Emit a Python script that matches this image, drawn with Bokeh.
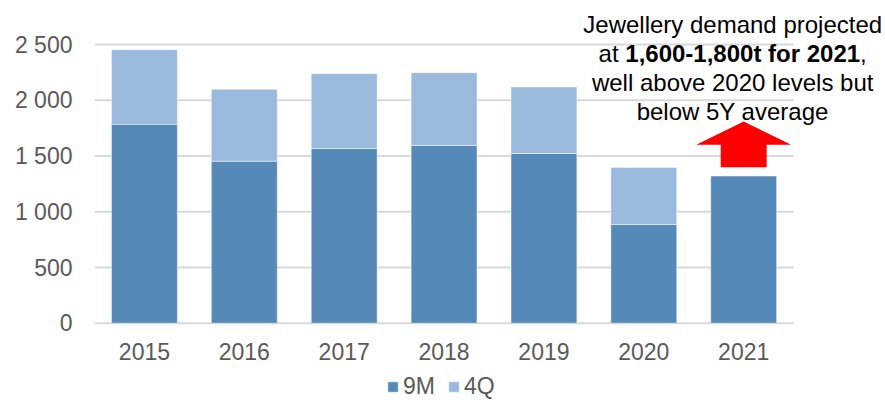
from bokeh.plotting import figure
from bokeh.models import (FixedTicker, Legend, LegendItem, Label, Range1d,
                          ColumnDataSource)
from bokeh.embed import file_html
from bokeh.resources import INLINE

# ---- data ----
years = ["2015", "2016", "2017", "2018", "2019", "2020", "2021"]
m9 = [1784, 1454, 1568, 1595, 1523, 886, 1320]
q4 = [670, 644, 671, 653, 595, 512, float("nan")]
series = ["9M", "4Q"]
y_ticks = [0, 500, 1000, 1500, 2000, 2500]
y_tick_labels = ["0", "500", "1 000", "1 500", "2 000", "2 500"]
proj_low, proj_high = 1600, 1800   # projected 2021 range (t)

C9M = "#5589B8"
C4Q = "#99B9DD"
TXT = "#595959"
FONT = "Liberation Sans"

n = len(years)
xs = list(range(n))
src = ColumnDataSource(dict(x=xs, m9=m9, q4=q4))

p = figure(width=885, height=400, output_backend="svg", toolbar_location=None,
           x_range=Range1d(-0.5, 7.42), y_range=Range1d(-693, 2895),
           min_border_left=94, min_border_right=0, min_border_top=0,
           min_border_bottom=0)
p.outline_line_color = None
p.background_fill_color = "white"
p.border_fill_color = "white"

# horizontal gridlines spanning the category area only
p.segment(x0=[-0.5] * len(y_ticks), x1=[n - 0.5] * len(y_ticks),
          y0=y_ticks, y1=y_ticks, line_color="#D9D9D9", line_width=2)

rs = p.vbar_stack(["m9", "q4"], x="x", width=0.66, source=src,
                  color=[C9M, C4Q], line_color="white", line_alpha=0.6,
                  line_width=0.8)

# axes
p.xaxis.ticker = FixedTicker(ticks=xs)
p.xaxis.major_label_overrides = {i: y for i, y in enumerate(years)}
p.xaxis.fixed_location = 0
p.yaxis.ticker = FixedTicker(ticks=y_ticks)
p.yaxis.major_label_overrides = {t: l for t, l in zip(y_ticks, y_tick_labels)}
for ax in (p.xaxis, p.yaxis):
    ax.axis_line_color = None
    ax.major_tick_line_color = None
    ax.minor_tick_line_color = None
    ax.major_tick_out = 0
    ax.major_tick_in = 0
    ax.major_label_text_font = FONT
    ax.major_label_text_font_size = "23px"
    ax.major_label_text_color = TXT
p.xaxis.major_label_standoff = 20
p.yaxis.major_label_standoff = 22
p.xgrid.grid_line_color = None
p.ygrid.grid_line_color = None

# arrow for 2021 projection
i21 = n - 1
shaft_hw, head_hw = 0.23, 0.475
shaft_bottom = m9[i21] + 80
ax_ = [i21 - shaft_hw, i21 + shaft_hw, i21 + shaft_hw, i21 + head_hw, i21,
       i21 - head_hw, i21 - shaft_hw]
ay_ = [shaft_bottom, shaft_bottom, proj_low, proj_low, proj_high + 10,
       proj_low, proj_low]
p.patch(ax_, ay_, fill_color="#FF0000", line_color=None)

# annotation text
cx = i21 - 0.11
fs = 24
common = dict(text_font=FONT, text_font_size=f"{fs}px", text_color="black",
              text_baseline="alphabetic")
line_y = [2680, 2420, 2160, 1902]
p.add_layout(Label(x=cx, y=line_y[0], text="Jewellery demand projected",
                   text_align="center", **common))
w_at, w_bold, w_comma = 1.112 * fs, 9.783 * fs, 0.278 * fs
start = -(w_at + w_bold + w_comma) / 2
p.add_layout(Label(x=cx, y=line_y[1], x_offset=start, text="at ",
                   text_align="left", **common))
p.add_layout(Label(x=cx, y=line_y[1], x_offset=start + w_at,
                   text="1,600-1,800t for 2021", text_align="left",
                   text_font_style="bold", **common))
p.add_layout(Label(x=cx, y=line_y[1], x_offset=start + w_at + w_bold, text=",",
                   text_align="left", **common))
p.add_layout(Label(x=cx, y=line_y[2], text="well above 2020 levels but",
                   text_align="center", **common))
p.add_layout(Label(x=cx, y=line_y[3], text="below 5Y average",
                   text_align="center", **common))

legend = Legend(items=[LegendItem(label=s, renderers=[r]) for s, r in zip(series, rs)],
                orientation="horizontal", location=(292, 0),
                padding=0, margin=0, spacing=12, label_standoff=4,
                glyph_width=13, glyph_height=13,
                label_text_font=FONT, label_text_font_size="23px",
                label_text_color=TXT, border_line_color=None,
                background_fill_alpha=0)
p.add_layout(legend, "center")

open("out.html", "w").write(file_html(p, INLINE))
